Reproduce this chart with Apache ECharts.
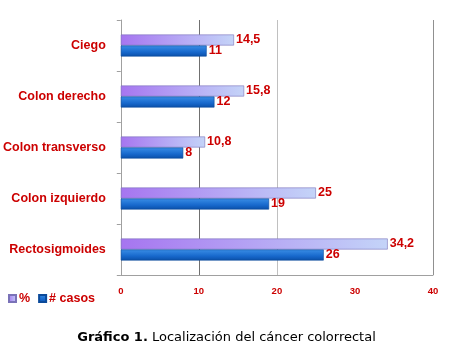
<!DOCTYPE html>
<html>
<head>
<meta charset="utf-8">
<script src="https://cdn.jsdelivr.net/npm/echarts@6/dist/echarts.min.js"></script>
<style>
  html, body { margin: 0; padding: 0; background: #fff; }
  #grafico { width: 453px; height: 352px; }
</style>
</head>
<body>
<div id="grafico"></div>
<script type="text/javascript">
var categorias = ['Ciego', 'Colon derecho', 'Colon transverso', 'Colon izquierdo', 'Rectosigmoides'];
var porcentaje = [14.5, 15.8, 10.8, 25, 34.2];
var casos = [11, 12, 8, 19, 26];
var ticks = [0, 10, 20, 30, 40];

// etiqueta con coma decimal
function coma(p) {
	return String(p.value).replace('.', ',');
}

var rojo = '#cc0000';
var etiqueta = {
	show: true,
	position: 'right',
	distance: 2,
	color: rojo,
	fontFamily: 'Liberation Sans',
	fontWeight: 'bold',
	fontSize: 12.5,
	formatter: coma
};

var option = {
	animation: false,
	title: {
		text: '{b|Gráfico 1.} Localización del cáncer colorrectal',
		left: 'center',
		top: 326,
		textStyle: {
			fontFamily: 'DejaVu Sans',
			fontSize: 13,
			fontWeight: 'normal',
			color: '#000',
			rich: { b: { fontFamily: 'DejaVu Sans', fontSize: 13, fontWeight: 'bold', color: '#000' } }
		}
	},
	legend: {
		left: 3,
		top: 287,
		icon: 'rect',
		itemWidth: 7,
		itemHeight: 7,
		itemGap: 8,
		textStyle: { color: rojo, fontFamily: 'Liberation Sans', fontWeight: 'bold', fontSize: 12.5, padding: [0, 0, 0, -2] },
		data: ['%', '# casos']
	},
	grid: { left: 120, right: 20, top: 20, bottom: 77 },
	xAxis: {
		type: 'value',
		min: ticks[0],
		max: ticks[ticks.length - 1],
		interval: 10,
		axisLine: { show: true, lineStyle: { color: '#a0a0a0' } },
		axisTick: { show: false },
		axisLabel: { color: rojo, fontFamily: 'Liberation Sans', fontWeight: 'bold', fontSize: 9.5, margin: 11 },
		splitLine: {
			show: true,
			lineStyle: { color: ['transparent', '#707070', '#c0c0c0', 'transparent', '#909090'], width: 1 }
		}
	},
	yAxis: {
		type: 'category',
		inverse: true,
		data: categorias,
		axisLine: { show: true, lineStyle: { color: '#a0a0a0' } },
		axisTick: { show: true, length: 4, lineStyle: { color: '#a0a0a0' } },
		axisLabel: { color: rojo, fontFamily: 'Liberation Sans', fontWeight: 'bold', fontSize: 12.5, margin: 15 }
	},
	series: [
		{
			name: '%',
			type: 'bar',
			data: porcentaje,
			barWidth: 11,
			barGap: '0%',
			itemStyle: {
				color: new echarts.graphic.LinearGradient(0, 0, 1, 0, [
					{ offset: 0, color: '#a675f0' },
					{ offset: 1, color: '#c4d4f8' }
				]),
				borderColor: '#7a72b8',
				borderWidth: 0.6
			},
			label: etiqueta
		},
		{
			name: '# casos',
			type: 'bar',
			data: casos,
			barWidth: 11,
			itemStyle: {
				color: new echarts.graphic.LinearGradient(0, 0, 0, 1, [
					{ offset: 0, color: '#3a8ee6' },
					{ offset: 0.6, color: '#1768cc' },
					{ offset: 1, color: '#0a4fa8' }
				]),
				borderColor: '#0b4a9a',
				borderWidth: 0.6
			},
			label: etiqueta
		}
	]
};

var grafico = echarts.init(document.getElementById('grafico'));
grafico.setOption(option);
</script>
</body>
</html>
